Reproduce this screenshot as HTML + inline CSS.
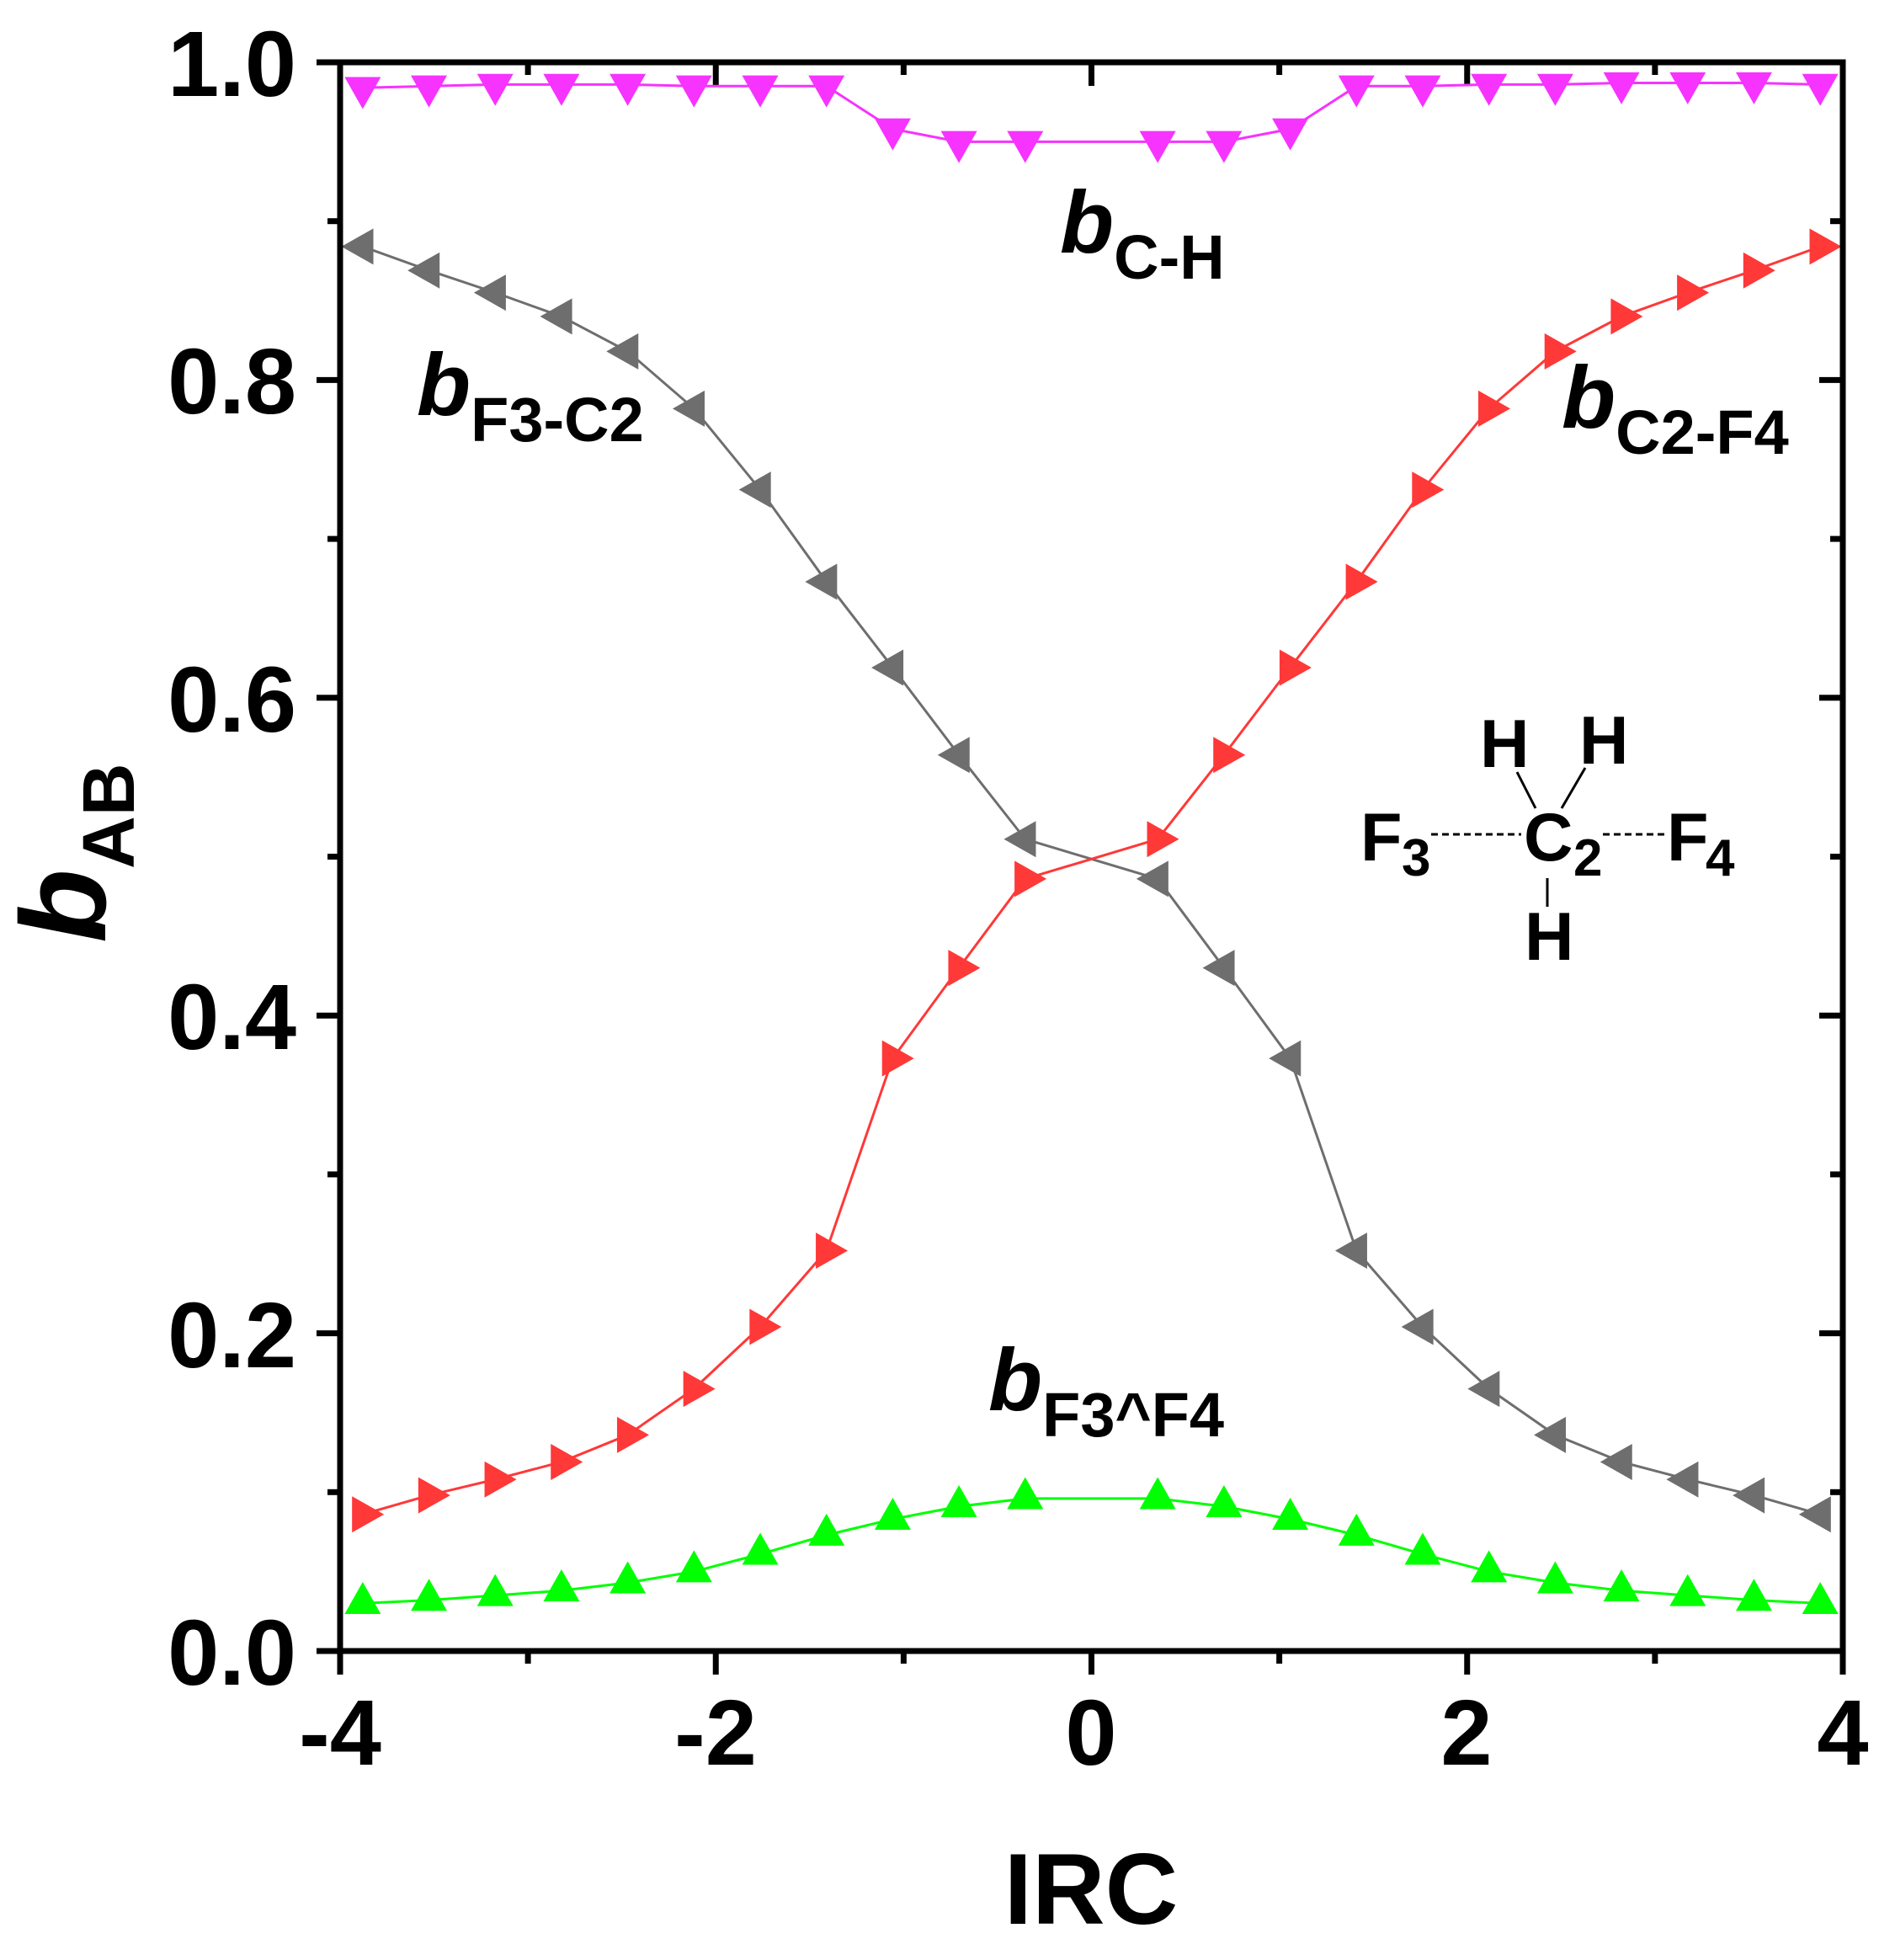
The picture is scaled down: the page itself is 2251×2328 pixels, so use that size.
<!DOCTYPE html>
<html><head><meta charset="utf-8"><style>html,body{margin:0;padding:0;background:#fff}svg{display:block}text{font-family:"Liberation Sans",Arial,sans-serif;font-weight:bold}</style></head>
<body>
<svg id="s" width="2251" height="2328" viewBox="0 0 2251 2328" xmlns="http://www.w3.org/2000/svg">
<g id="ticks" stroke="#000" stroke-width="7"></g>
<g id="series"></g>
<rect x="404" y="74" width="1785" height="1887" fill="none" stroke="#000" stroke-width="7"/>
<g font-size="110" text-anchor="end">
<text x="352" y="2001">0.0</text>
<text x="352" y="1624">0.2</text>
<text x="352" y="1246">0.4</text>
<text x="352" y="869">0.6</text>
<text x="352" y="491">0.8</text>
<text x="352" y="114">1.0</text>
</g>
<g font-size="110" text-anchor="middle">
<text x="404" y="2096">-4</text>
<text x="850" y="2096">-2</text>
<text x="1296" y="2096">0</text>
<text x="1742" y="2096">2</text>
<text x="2189" y="2096">4</text>
</g>
<text x="1296" y="2285" font-size="120" text-anchor="middle">IRC</text>
<text transform="translate(125,1120) rotate(-90)"><tspan font-size="144" font-style="italic">b</tspan><tspan font-size="87" dy="34">AB</tspan></text>
<text x="1259" y="300"><tspan font-size="105" font-style="italic">b</tspan><tspan font-size="74" dy="31">C-H</tspan></text>
<text x="495" y="493"><tspan font-size="105" font-style="italic">b</tspan><tspan font-size="74" dy="31">F3-C2</tspan></text>
<text x="1855" y="508"><tspan font-size="105" font-style="italic">b</tspan><tspan font-size="74" dy="31">C2-F4</tspan></text>
<text x="1174" y="1675"><tspan font-size="105" font-style="italic">b</tspan><tspan font-size="74" dy="31">F3^F4</tspan></text>
<g font-size="81">
<text x="1616" y="1022">F</text><text x="1665" y="1040" font-size="62">3</text>
<text x="1810" y="1022">C</text><text x="1869" y="1040" font-size="62">2</text>
<text x="1980" y="1022">F</text><text x="2026" y="1040" font-size="62">4</text>
<text x="1758" y="911">H</text>
<text x="1876" y="907">H</text>
<text x="1811" y="1140">H</text>
</g>
<g stroke="#000" stroke-width="3" fill="none">
<line x1="1700" y1="991" x2="1807" y2="991" stroke-dasharray="8,5"/>
<line x1="1904" y1="991" x2="1980" y2="991" stroke-dasharray="8,5"/>
<line x1="1802" y1="917" x2="1824" y2="960"/>
<line x1="1883" y1="912" x2="1855" y2="960"/>
<line x1="1838" y1="1043" x2="1838" y2="1077"/>
</g>
</svg>
<script>
(function(){
var NS="http://www.w3.org/2000/svg";
function X(x){return 404+(x+4)*223.125;}
function Y(v){return 1961-v*1887;}
var t=document.getElementById('ticks'),g=document.getElementById('series');
function ln(p,x1,y1,x2,y2){var l=document.createElementNS(NS,'line');l.setAttribute('x1',x1);l.setAttribute('y1',y1);l.setAttribute('x2',x2);l.setAttribute('y2',y2);p.appendChild(l);}
for(var i=0;i<=10;i++){var y=Y(i/10),L=(i%2==0)?28:15;ln(t,404-L,y,404,y);ln(t,2189-L,y,2189,y);}
for(var i=-4;i<=4;i++){var x=X(i),L=(i%2==0)?28:15;ln(t,x,1961,x,1961+L);ln(t,x,74,x,74+L);}
var xs=[];for(var k=11;k>=1;k--)xs.push(-0.3527*k);for(var k=1;k<=11;k++)xs.push(0.3527*k);
var gray=[0.884,0.869,0.855,0.840,0.818,0.782,0.731,0.673,0.619,0.564,0.511,0.486,0.430,0.373,0.252,0.204,0.165,0.136,0.119,0.108,0.098,0.086];
var red=gray.slice().reverse();
var mag=[0.984,0.985,0.986,0.986,0.986,0.985,0.985,0.985,0.958,0.950,0.950,0.950,0.950,0.958,0.985,0.985,0.986,0.986,0.987,0.987,0.987,0.986];
var gl=[0.030,0.032,0.035,0.038,0.043,0.050,0.061,0.073,0.083,0.091,0.096];
var green=gl.concat(gl.slice().reverse());
var w=43,h=38;
function tri(cx,cy,dir){
 if(dir=='d')return [[cx-w/2,cy-h/3],[cx+w/2,cy-h/3],[cx,cy+2*h/3]];
 if(dir=='u')return [[cx-w/2,cy+h/3],[cx+w/2,cy+h/3],[cx,cy-2*h/3]];
 if(dir=='l')return [[cx-2*h/3,cy],[cx+h/3,cy-w/2],[cx+h/3,cy+w/2]];
 return [[cx+2*h/3,cy],[cx-h/3,cy-w/2],[cx-h/3,cy+w/2]];
}
function series(vals,col,dir){
 var pts=vals.map(function(v,i){return X(xs[i])+','+Y(v);}).join(' ');
 var pl=document.createElementNS(NS,'polyline');pl.setAttribute('points',pts);pl.setAttribute('fill','none');pl.setAttribute('stroke',col);pl.setAttribute('stroke-width','3');g.appendChild(pl);
 vals.forEach(function(v,i){var p=document.createElementNS(NS,'polygon');p.setAttribute('points',tri(X(xs[i]),Y(v),dir).map(function(q){return q.join(',');}).join(' '));p.setAttribute('fill',col);g.appendChild(p);});
}
series(mag,'#f633ff','d');
series(gray,'#6e6e6e','l');
series(red,'#ff3838','r');
series(green,'#00ff00','u');
})();
</script>
</body></html>
